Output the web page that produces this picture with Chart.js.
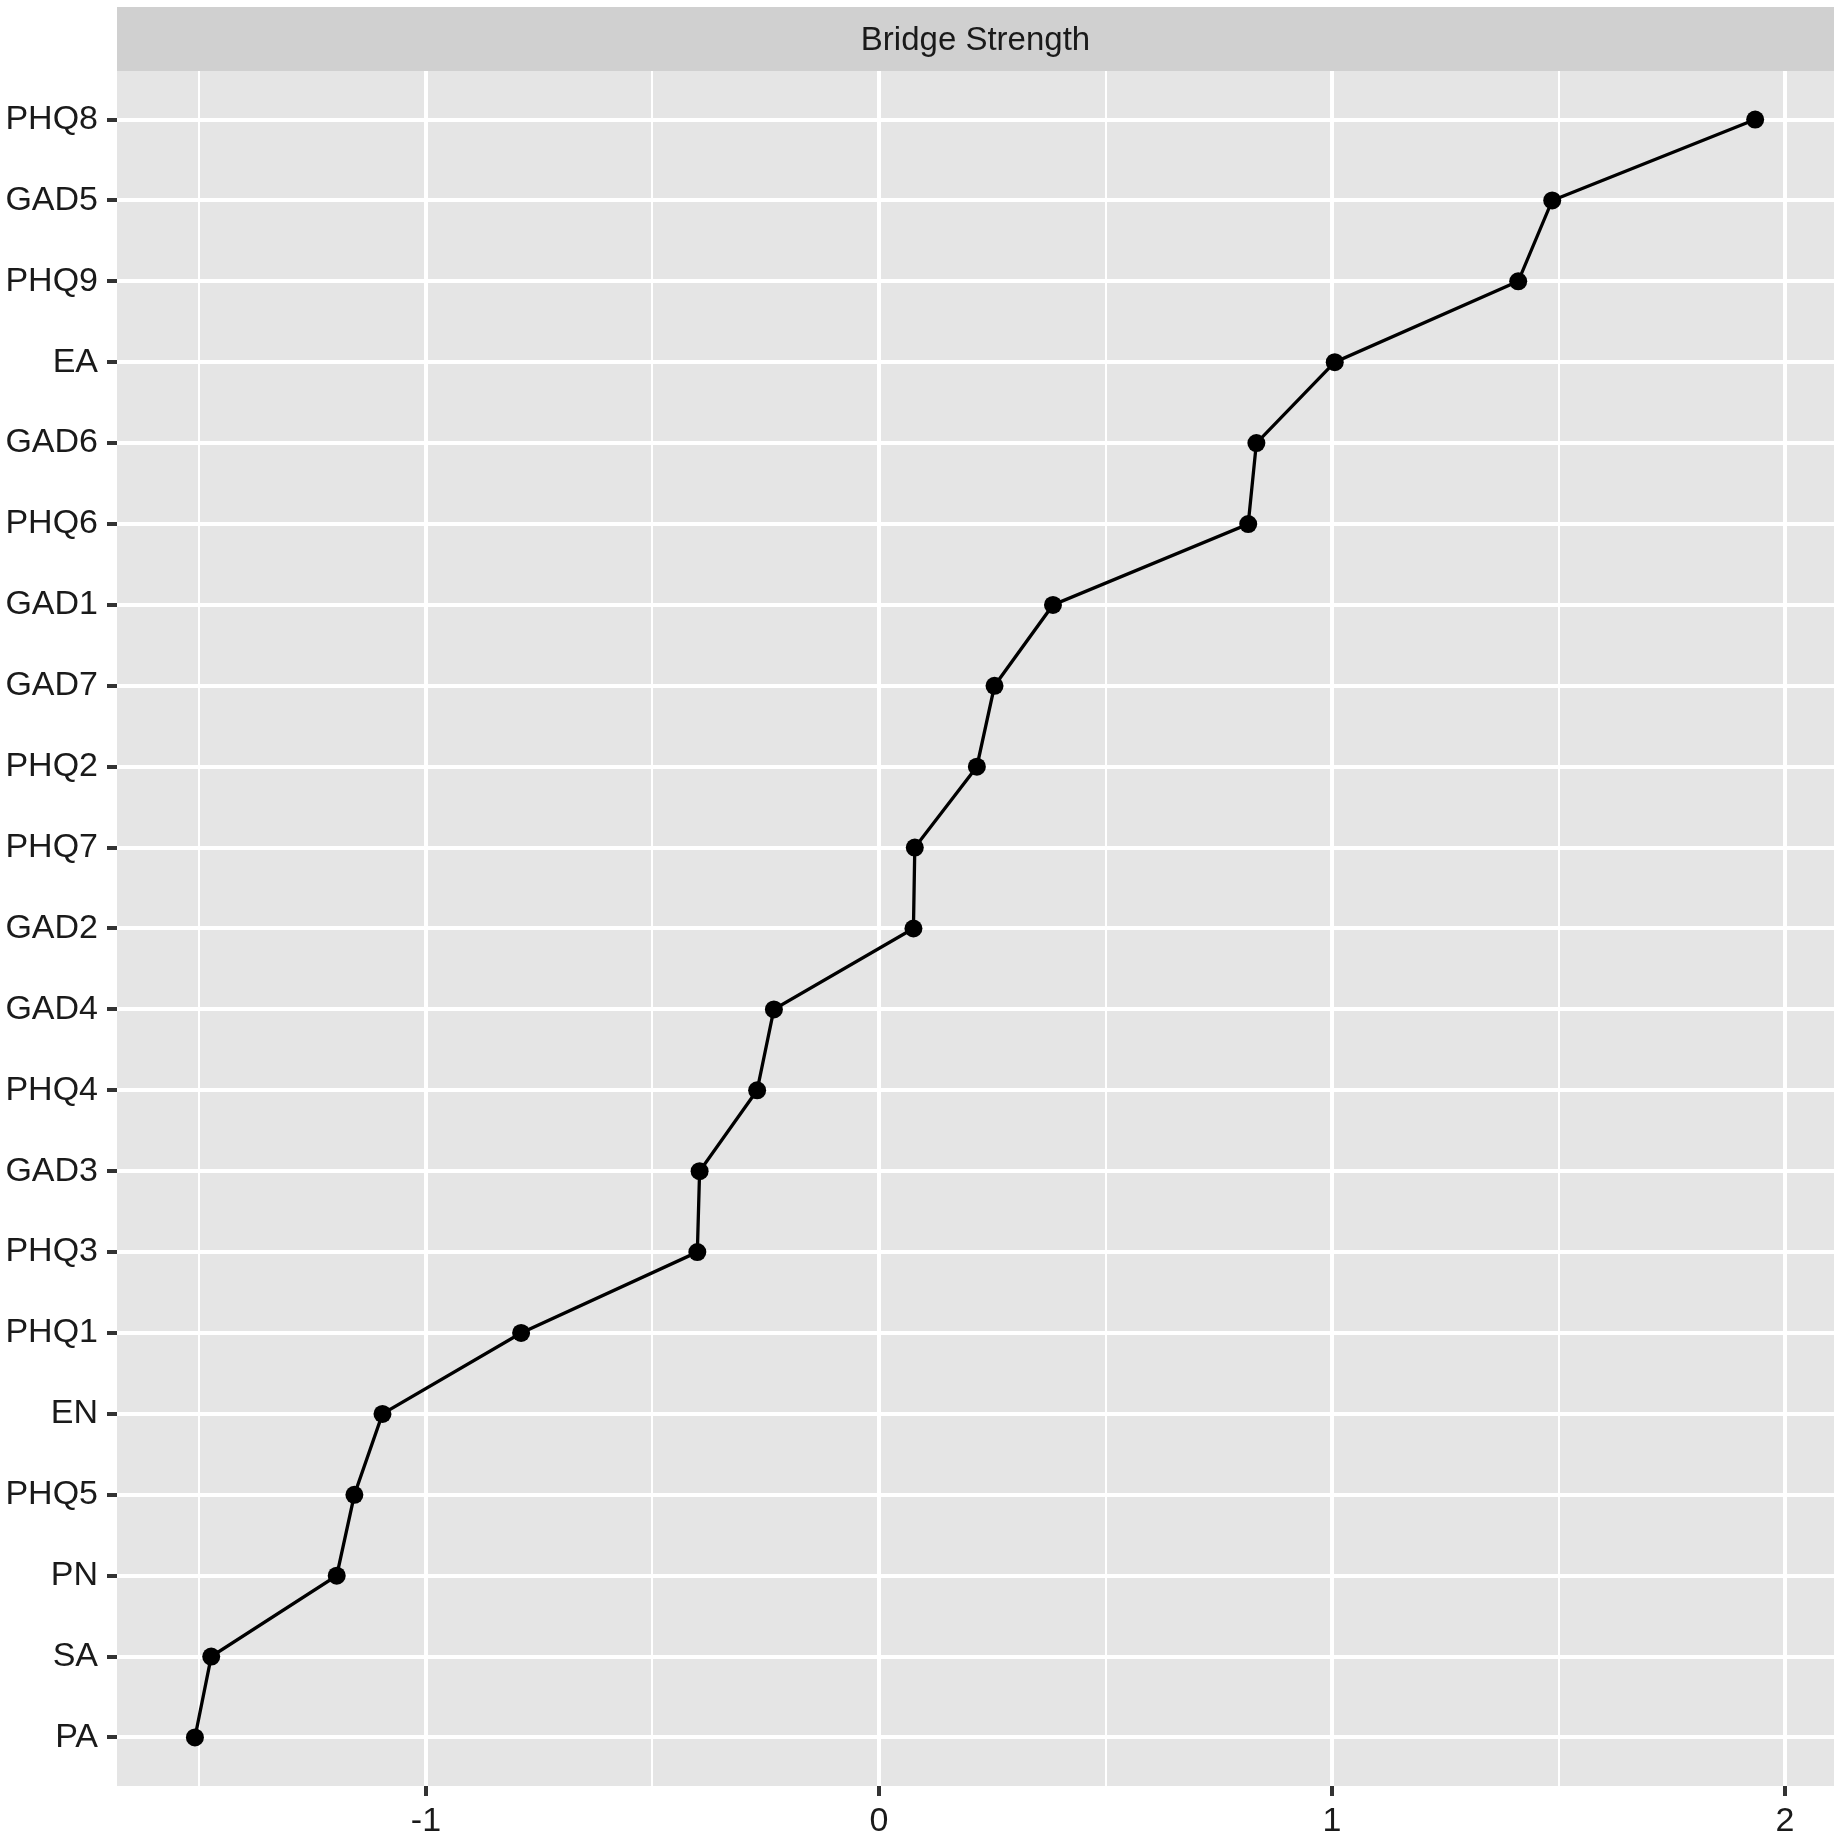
<!DOCTYPE html>
<html>
<head>
<meta charset="utf-8">
<script src="https://cdn.jsdelivr.net/npm/chart.js@4/dist/chart.umd.min.js"></script>
<style>
  html, body { margin: 0; padding: 0; background: #fff; }
  canvas { display: block; }
</style>
</head>
<body>
<canvas id="bridgeChart" width="1843" height="1838"></canvas>
<script>
// nodes, top to bottom
const nodes = ['PHQ8', 'GAD5', 'PHQ9', 'EA', 'GAD6', 'PHQ6', 'GAD1', 'GAD7', 'PHQ2', 'PHQ7',
  'GAD2', 'GAD4', 'PHQ4', 'GAD3', 'PHQ3', 'PHQ1', 'EN', 'PHQ5', 'PN', 'SA', 'PA'];
const bridgeStrength = [1.934, 1.486, 1.411, 1.006, 0.833, 0.815, 0.384, 0.255, 0.216, 0.079,
  0.076, -0.232, -0.269, -0.396, -0.401, -0.790, -1.096, -1.158, -1.197, -1.474, -1.510];
const xTicks = [-1.5, -1, -0.5, 0, 0.5, 1, 1.5, 2];
const panelTitle = 'Bridge Strength';

const FONT = '"Liberation Sans", Arial, Helvetica, sans-serif';

const panelBg = {
    id: 'panelBg',
    beforeDraw(chart) {
        const { ctx, chartArea } = chart;
        ctx.save();
        ctx.fillStyle = '#ffffff';
        ctx.fillRect(0, 0, chart.width, chart.height);
        ctx.fillStyle = '#e5e5e5';
        ctx.fillRect(chartArea.left, chartArea.top, chartArea.right - chartArea.left, chartArea.bottom - chartArea.top);
        // facet strip
        ctx.fillStyle = '#d0d0d0';
        ctx.fillRect(chartArea.left, 7, chartArea.right - chartArea.left, chartArea.top - 7);
        ctx.fillStyle = '#1a1a1a';
        ctx.font = '33px ' + FONT;
        ctx.textAlign = 'center';
        ctx.textBaseline = 'middle';
        ctx.fillText(panelTitle, (chartArea.left + chartArea.right) / 2, (7 + chartArea.top) / 2 + 2);
        ctx.restore();
    }
};

const points = bridgeStrength.map((v, i) => ({ x: v, y: i }));

new Chart(document.getElementById('bridgeChart'), {
    type: 'line',
    data: {
        datasets: [{
            label: panelTitle,
            data: points,
            borderColor: '#000',
            borderWidth: 3.3,
            backgroundColor: '#000',
            pointRadius: 9,
            pointBorderWidth: 0,
            pointBackgroundColor: '#000',
            tension: 0,
            fill: false
        }]
    },
    options: {
        responsive: false,
        animation: false,
        devicePixelRatio: 1,
        layout: { padding: { top: 71, right: 7, left: 0, bottom: 0 } },
        plugins: {
            legend: { display: false },
            tooltip: { enabled: false }
        },
        scales: {
            x: {
                type: 'linear',
                min: -1.682,
                max: 2.108,
                afterBuildTicks: scale => { scale.ticks = xTicks.map(v => ({ value: v })); },
                afterFit: scale => { scale.height = 52; },
                border: { display: false },
                grid: {
                    color: '#ffffff',
                    lineWidth: c => (Number.isInteger(c.tick.value) ? 4 : 2),
                    tickColor: c => (Number.isInteger(c.tick.value) ? '#333333' : 'rgba(0,0,0,0)'),
                    tickLength: 10,
                    tickWidth: 4
                },
                ticks: {
                    autoSkip: false,
                    maxRotation: 0,
                    padding: 5,
                    color: '#1a1a1a',
                    font: { family: FONT, size: 34 },
                    callback: v => (Number.isInteger(v) ? String(v) : '')
                }
            },
            y: {
                type: 'linear',
                reverse: true,
                min: -0.6,
                max: nodes.length - 1 + 0.6,
                afterBuildTicks: scale => { scale.ticks = nodes.map((_, i) => ({ value: i })); },
                afterFit: scale => { scale.width = 117; },
                border: { display: false },
                grid: {
                    color: '#ffffff',
                    lineWidth: 4,
                    tickColor: '#333333',
                    tickLength: 10,
                    tickWidth: 4
                },
                ticks: {
                    autoSkip: false,
                    padding: 9,
                    color: '#1a1a1a',
                    font: { family: FONT, size: 34 },
                    callback: v => nodes[v]
                }
            }
        }
    },
    plugins: [panelBg]
});
</script>
</body>
</html>
